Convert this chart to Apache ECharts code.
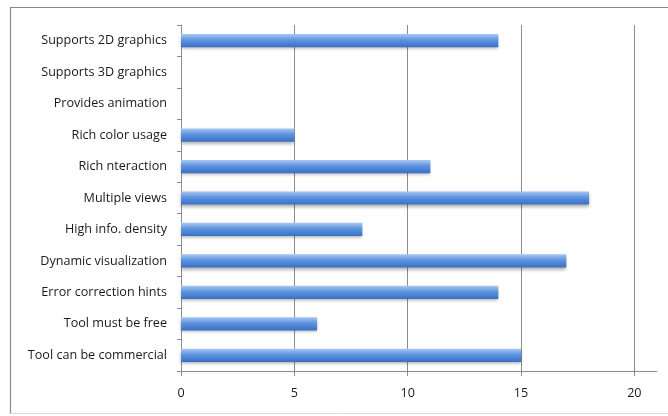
<!DOCTYPE html>
<html>
<head>
<meta charset="utf-8">
<script src="https://cdn.jsdelivr.net/npm/echarts@6/dist/echarts.min.js"></script>
<style>
  html, body { margin: 0; padding: 0; background: #fff; }
  #chart { width: 668px; height: 416px; }
</style>
</head>
<body>
<div id="chart"></div>
<script>
// categories listed bottom to top (category axis runs upward)
var categories = [
    'Tool can be commercial',
    'Tool must be free',
    'Error correction hints',
    'Dynamic visualization',
    'High info. density',
    'Multiple views',
    'Rich nteraction',
    'Rich color usage',
    'Provides animation',
    'Supports 3D graphics',
    'Supports 2D graphics'
];
var counts = [15, 6, 14, 17, 8, 18, 11, 5, 0, 0, 14];
var xTicks = [0, 5, 10, 15, 20];

var chart = echarts.init(document.getElementById('chart'));

var option = {
    animation: false,
    backgroundColor: '#fff',
    textStyle: { fontFamily: 'Open Sans' },
    graphic: [
        // frame: top and left dark, bottom faint, right edge cut off
        {
            type: 'polyline',
            shape: { points: [[668, 7.5], [10.5, 7.5], [10.5, 413.5]] },
            style: { stroke: '#8a8a8a', lineWidth: 1.2, fill: null },
            silent: true
        },
        {
            type: 'line',
            shape: { x1: 10.5, y1: 413.5, x2: 668, y2: 413.5 },
            style: { stroke: '#dcdcdc', lineWidth: 1 },
            silent: true
        }
    ],
    grid: {
        left: 181,
        right: 11,
        top: 25,
        bottom: 45
    },
    xAxis: {
        type: 'value',
        min: 0,
        max: 21,
        interval: 5,
        axisLine: { show: true, lineStyle: { color: '#8c8c8c' } },
        axisTick: {
            show: true,
            length: 5,
            customValues: xTicks,
            lineStyle: { color: '#8c8c8c' }
        },
        axisLabel: {
            customValues: xTicks,
            margin: 16,
            fontSize: 12.6,
            color: '#1a1a1a'
        },
        splitLine: {
            show: true,
            lineStyle: {
                color: ['#8c8c8c', '#8c8c8c', '#8c8c8c', '#8c8c8c', '#8c8c8c', 'rgba(0,0,0,0)'],
                width: 1
            }
        }
    },
    yAxis: {
        type: 'category',
        data: categories,
        axisLine: { show: true, lineStyle: { color: '#8c8c8c' } },
        axisTick: { show: true, length: 4, lineStyle: { color: '#8c8c8c' } },
        axisLabel: {
            margin: 14,
            fontSize: 12.6,
            color: '#1a1a1a'
        },
        splitLine: { show: false }
    },
    series: [{
        type: 'bar',
        data: counts,
        barWidth: '42%',
        itemStyle: {
            color: new echarts.graphic.LinearGradient(0, 0, 0, 1, [
                { offset: 0, color: '#a9c7f1' },
                { offset: 0.45, color: '#5d93e0' },
                { offset: 1, color: '#3a70c4' }
            ]),
            shadowColor: 'rgba(0,0,0,0.3)',
            shadowBlur: 3,
            shadowOffsetY: 2
        }
    }]
};

chart.setOption(option);
</script>
</body>
</html>
